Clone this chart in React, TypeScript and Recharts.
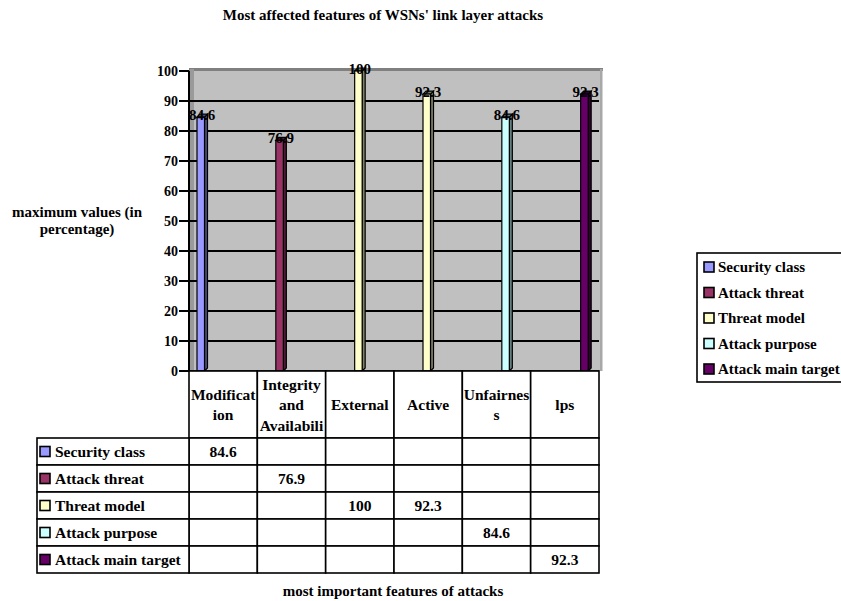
import React from 'react';
import { BarChart, Bar, XAxis, YAxis, CartesianGrid, LabelList } from 'recharts';

const categories = ['Modification', 'Integrity and Availability', 'External', 'Active', 'Unfairness', 'lps'];
// header cells wrap the way the narrow table columns cut them
const categoryLines = [['Modificat', 'ion'], ['Integrity', 'and', 'Availabili'], ['External'], ['Active'], ['Unfairnes', 's'], ['lps']];

const seriesNames = ['Security class', 'Attack threat', 'Threat model', 'Attack purpose', 'Attack main target'];
const seriesColors = ['#9999FF', '#993366', '#FFFFCC', '#CCFFFF', '#660066'];

const securityClass = [84.6, null, null, null, null, null];
const attackThreat = [null, 76.9, null, null, null, null];
const threatModel = [null, null, 100, 92.3, null, null];
const attackPurpose = [null, null, null, null, 84.6, null];
const attackMainTarget = [null, null, null, null, null, 92.3];

const seriesValues = [securityClass, attackThreat, threatModel, attackPurpose, attackMainTarget];

const yTicks = [0, 10, 20, 30, 40, 50, 60, 70, 80, 90, 100];
const gridValues = [10, 20, 30, 40, 50, 60, 70, 80, 90];

const title = "Most affected features of WSNs' link layer attacks";
const yTitle = ['maximum values (in', 'percentage)'];
const xTitle = 'most important features of attacks';

const W = 841;
const H = 601;
const PLOT_L = 189;
const PLOT_R = 599;
const PLOT_T = 71;
const PLOT_B = 371;
const COL_W = (PLOT_R - PLOT_L) / categories.length;
const HEAD_H = 67;
const ROW_H = 27;
const TABLE_L = 37;

const FONT = "'Liberation Serif', 'Times New Roman', serif";

const data = categories.map((name, i) => {
  const row: any = { name };
  seriesValues.forEach((vals, s) => {
    row['s' + s] = vals[i];
  });
  return row;
});

function shade(hex: string, k: number) {
  const n = parseInt(hex.slice(1), 16);
  const r = Math.round(((n >> 16) & 255) * k);
  const g = Math.round(((n >> 8) & 255) * k);
  const b = Math.round((n & 255) * k);
  return `rgb(${r},${g},${b})`;
}

// flat bar with a thin right side and top face, like the old office 3-D columns
const Column3D = (props: any) => {
  const { x, y, width, height, fill } = props;
  if (!height || height <= 0 || isNaN(height)) return null;
  const d = 3;
  const fw = width - d + 0.5;
  const dark = shade(fill, 0.5);
  return (
    <g stroke="#000" strokeWidth={1.2}>
      <polygon
        points={`${x + fw},${y} ${x + fw + d},${y - d} ${x + fw + d},${y + height - d} ${x + fw},${y + height}`}
        fill={dark}
      />
      <polygon points={`${x},${y} ${x + d},${y - d} ${x + fw + d},${y - d} ${x + fw},${y}`} fill={dark} />
      <rect x={x} y={y} width={fw} height={height} fill={fill} />
    </g>
  );
};

const ValueLabel = (props: any) => {
  const { x, y, width, value } = props;
  if (value == null) return null;
  return (
    <text
      x={x + width / 2}
      y={y - 2}
      textAnchor="middle"
      dominantBaseline="central"
      fontFamily={FONT}
      fontWeight="bold"
      fontSize={15}
      fill="#000"
    >
      {value}
    </text>
  );
};

const Swatch = ({ x, cy, color }: { x: number; cy: number; color: string }) => (
  <rect x={x} y={cy - 5} width={10} height={10} fill={color} stroke="#000" strokeWidth={1.6} />
);

// data table under the plot: one column per category tick
const TableTick = (props: any) => {
  const { x, y, payload } = props;
  const i = payload.index ?? props.index ?? 0;
  const left = x - COL_W / 2;
  const lines = categoryLines[i];
  const headMid = y + HEAD_H / 2;
  const txt = {
    fontFamily: FONT,
    fontWeight: 'bold' as const,
    fontSize: 15.5,
    fill: '#000',
  };
  return (
    <g>
      <rect x={left} y={y} width={COL_W} height={HEAD_H} fill="#fff" stroke="#000" strokeWidth={1.6} />
      {lines.map((ln, k) => (
        <text
          key={k}
          x={x}
          y={headMid + (k - (lines.length - 1) / 2) * 20.5}
          textAnchor="middle"
          dominantBaseline="central"
          {...txt}
        >
          {ln}
        </text>
      ))}
      {seriesValues.map((vals, s) => {
        const top = y + HEAD_H + s * ROW_H;
        return (
          <g key={s}>
            <rect x={left} y={top} width={COL_W} height={ROW_H} fill="#fff" stroke="#000" strokeWidth={1.6} />
            {vals[i] != null && (
              <text x={x} y={top + ROW_H / 2} textAnchor="middle" dominantBaseline="central" {...txt}>
                {vals[i]}
              </text>
            )}
          </g>
        );
      })}
      {i === 0 &&
        seriesNames.map((nm, s) => {
          const top = y + HEAD_H + s * ROW_H;
          return (
            <g key={'h' + s}>
              <rect
                x={TABLE_L}
                y={top}
                width={left - TABLE_L}
                height={ROW_H}
                fill="#fff"
                stroke="#000"
                strokeWidth={1.6}
              />
              <Swatch x={TABLE_L + 3} cy={top + ROW_H / 2} color={seriesColors[s]} />
              <text x={TABLE_L + 18} y={top + ROW_H / 2} dominantBaseline="central" {...txt}>
                {nm}
              </text>
            </g>
          );
        })}
    </g>
  );
};

const Backdrop = () => {
  const txt = { fontFamily: FONT, fontWeight: 'bold' as const, fill: '#000' };
  return (
    <svg width={W} height={H} style={{ position: 'absolute', left: 0, top: 0 }}>
      <rect x={PLOT_L} y={PLOT_T - 2} width={PLOT_R + 3 - PLOT_L} height={PLOT_B - PLOT_T + 2} fill="#C0C0C0" />
      <rect x={PLOT_L} y={PLOT_T - 3} width={PLOT_R + 4 - PLOT_L} height={3} fill="#808080" />
      <rect x={PLOT_L + 1} y={PLOT_T - 2} width={4} height={PLOT_B - PLOT_T + 2} fill="#9A9A9A" />
      <rect x={PLOT_R + 1} y={PLOT_T - 2} width={2.5} height={PLOT_B - PLOT_T + 2} fill="#A8A8A8" />

      <text x={383} y={20} textAnchor="middle" fontSize={15} {...txt}>
        {title}
      </text>
      {yTitle.map((t, k) => (
        <text key={k} x={77} y={217 + k * 17} textAnchor="middle" fontSize={15} {...txt}>
          {t}
        </text>
      ))}
      <text x={393} y={596} textAnchor="middle" fontSize={15} {...txt}>
        {xTitle}
      </text>

      <rect x={697} y={253} width={160} height={129} fill="#fff" stroke="#000" strokeWidth={1.6} />
      {seriesNames.map((nm, s) => {
        const cy = 267 + s * 25.5;
        return (
          <g key={s}>
            <Swatch x={704} cy={cy} color={seriesColors[s]} />
            <text x={718} y={cy} dominantBaseline="central" fontSize={15} {...txt}>
              {nm}
            </text>
          </g>
        );
      })}
    </svg>
  );
};

export default function App() {
  return (
    <div style={{ position: 'absolute', left: 0, top: 0, width: W, height: H, background: '#fff' }}>
      <Backdrop />
      <div style={{ position: 'absolute', left: 0, top: 0 }}>
        <BarChart
          width={W}
          height={H}
          data={data}
          margin={{ top: PLOT_T, right: W - PLOT_R, bottom: 20, left: PLOT_L - 60 }}
          barCategoryGap={8}
          barGap={0.5}
        >
          <CartesianGrid vertical={false} stroke="#000" strokeWidth={2} horizontalValues={gridValues} />
          <XAxis
            dataKey="name"
            interval={0}
            height={H - PLOT_B - 20}
            tickSize={0}
            tickMargin={0}
            tickLine={false}
            axisLine={{ stroke: '#000', strokeWidth: 1.6 }}
            tick={<TableTick />}
          />
          <YAxis
            width={60}
            domain={[0, 100]}
            ticks={yTicks}
            interval={0}
            tickSize={10}
            tickMargin={1}
            axisLine={{ stroke: '#000', strokeWidth: 2 }}
            tickLine={{ stroke: '#000', strokeWidth: 2 }}
            tick={{ fill: '#000', fontSize: 14, fontWeight: 'bold', fontFamily: FONT }}
          />
          {seriesNames.map((nm, s) => (
            <Bar
              key={nm}
              dataKey={'s' + s}
              name={nm}
              fill={seriesColors[s]}
              shape={<Column3D />}
              isAnimationActive={false}
            >
              <LabelList dataKey={'s' + s} content={<ValueLabel />} />
            </Bar>
          ))}
        </BarChart>
      </div>
    </div>
  );
}
